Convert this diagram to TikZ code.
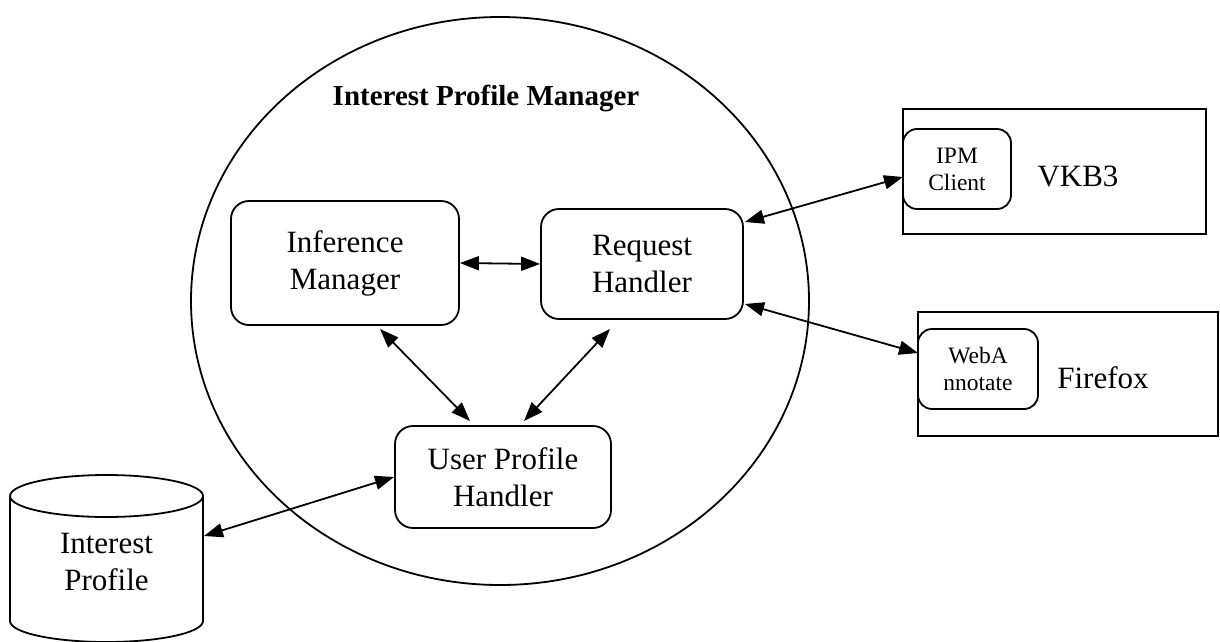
\documentclass[tikz,border=0pt]{standalone}
\usepackage{fontspec}
\setmainfont{Liberation Serif}
\usetikzlibrary{arrows.meta}
\begin{document}
\begin{tikzpicture}[x=1pt,y=-1pt,
  line width=1.8pt,
  comp/.style={draw, rounded corners=18pt, align=center, inner sep=0pt,
    font=\fontsize{31}{37}\selectfont},
  small/.style={draw, rounded corners=14pt, align=center, inner sep=0pt,
    font=\fontsize{23.5}{27}\selectfont},
  host/.style={draw, inner sep=0pt},
  hostlabel/.style={font=\fontsize{31}{37}\selectfont},
  link/.style={{Triangle[length=19pt,width=14pt]}-{Triangle[length=19pt,width=14pt]}, line width=1.8pt}
]
\useasboundingbox (0,0) rectangle (1220,642);

% manager boundary
\draw (500,301) ellipse [x radius=309, y radius=284];
\node[font=\fontsize{29}{34}\bfseries\selectfont] (title) at (486,98) {Interest Profile Manager};

% components inside the manager
\node[comp, minimum width=228pt, minimum height=124pt] (im) at (345,263) {Inference\\Manager};
\node[comp, minimum width=202pt, minimum height=110pt] (rh) at (642,264) {Request\\Handler};
\node[comp, minimum width=216pt, minimum height=102pt] (uph) at (503,477) {User Profile\\Handler};

% external hosts
\node[host, minimum width=303pt, minimum height=125pt] (vkb) at (1054.5,171.5) {};
\node[small, minimum width=108pt, minimum height=80pt] (ipm) at (957,169) {IPM\\Client};
\node[hostlabel] (vkbl) at (1078,176) {VKB3};

\node[host, minimum width=300pt, minimum height=124pt] (ff) at (1068,374) {};
\node[small, minimum width=120pt, minimum height=80pt] (wa) at (978,369) {WebA\\nnotate};
\node[hostlabel] (ffl) at (1103,378) {Firefox};

% interest profile store
\draw (10,496) -- (10,621) arc[start angle=180, end angle=0, x radius=96.5, y radius=21] -- (203,496);
\draw[fill=white] (106.5,496) ellipse [x radius=96.5, y radius=21];
\node[font=\fontsize{31}{37}\selectfont, align=center] (ip) at (106.5,562) {Interest\\Profile};
\coordinate (ipR) at (204,536);

% connectors
\draw[link] (im.east) -- (rh.west);
\draw[link] (380,329) -- (470,421);
\draw[link] (610,329) -- (524,421);
\draw[link] (745,222) -- (903,177);
\draw[link] (745,304) -- (918,353);
\draw[link] (ipR) -- (394,477);
\end{tikzpicture}
\end{document}
